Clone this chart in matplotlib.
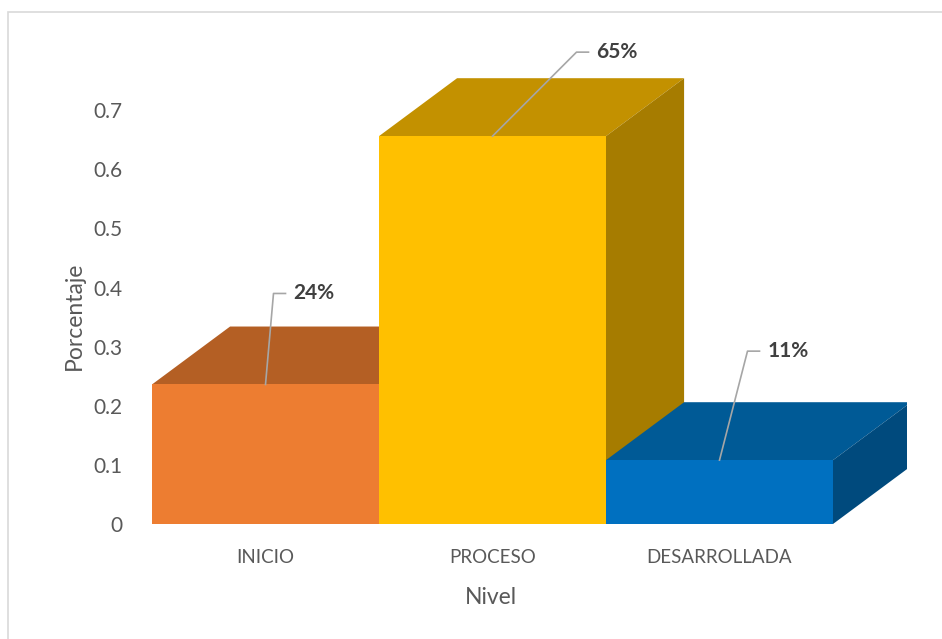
import numpy as np
import matplotlib
matplotlib.use('Agg')
import matplotlib.pyplot as plt
from matplotlib.patches import Polygon, Rectangle
from matplotlib.transforms import ScaledTranslation

plt.rcParams['font.family'] = ['Lato', 'DejaVu Sans']

# data
niveles = ['INICIO', 'PROCESO', 'DESARROLLADA']
valores = [0.236, 0.656, 0.108]
etiquetas = ['24%', '65%', '11%']
yticks = [0, 0.1, 0.2, 0.3, 0.4, 0.5, 0.6, 0.7]
ytick_labels = ['0', '0.1', '0.2', '0.3', '0.4', '0.5', '0.6', '0.7']

# colours: front, top, side
c_front = ['#ED7D31', '#FFC000', '#0070C0']
c_top = ['#B45F24', '#C39100', '#005A96']
c_side = ['#9C5220', '#A67C00', '#004A7D']

# fake 3d depth (data units)
dx, dy = 0.344, 0.098

# leader offsets in pixels (elbow point relative to bar top centre)
lead = [(8, 91), (84, 84), (28, 109)]

fig = plt.figure(figsize=(9.42, 6.39), dpi=100)
ax = fig.add_axes([152/942, 115/639, 755/942, 473/639])
ax.set_xlim(0, 3.326)
ax.set_ylim(0, 0.8)

for i, v in enumerate(valores):
    x0, x1 = i, i + 1
    top = Polygon([(x0, v), (x1, v), (x1+dx, v+dy), (x0+dx, v+dy)],
                  closed=True, fc=c_top[i], ec='none', zorder=2+i)
    side = Polygon([(x1, 0), (x1+dx, dy), (x1+dx, v+dy), (x1, v)],
                   closed=True, fc=c_side[i], ec='none', zorder=2+i)
    front = Rectangle((x0, 0), 1, v, fc=c_front[i], ec='none', zorder=2+i)
    ax.add_patch(top)
    ax.add_patch(side)
    ax.add_patch(front)

# data labels with leader lines
inv = fig.transFigure.inverted()
for i, v in enumerate(valores):
    ox, oy = lead[i]
    xs = i + 0.5
    t1 = ax.transData + ScaledTranslation(ox/100, oy/100, fig.dpi_scale_trans)
    t2 = ax.transData + ScaledTranslation((ox+12)/100, oy/100, fig.dpi_scale_trans)
    p0 = ax.transData.transform((xs, v))
    p1 = t1.transform((xs, v))
    p2 = t2.transform((xs, v))
    pts = inv.transform(np.array([p0, p1, p2]))
    fig.add_artist(plt.Line2D(pts[:, 0], pts[:, 1], color='#A6A6A6', lw=1.2, zorder=10))
    tt = ax.transData + ScaledTranslation((ox+20)/100, oy/100, fig.dpi_scale_trans)
    ax.text(xs, v, etiquetas[i], transform=tt, ha='left', va='center',
            fontsize=15, fontweight='bold', color='#404040', zorder=11, clip_on=False)

ax.set_yticks(yticks)
ax.set_yticklabels(ytick_labels)
ax.set_xticks([0.5, 1.5, 2.5])
ax.set_xticklabels(niveles)
ax.tick_params(axis='y', length=0, pad=21, labelsize=15, labelcolor='#595959')
ax.tick_params(axis='x', length=0, pad=18, labelsize=13.5, labelcolor='#595959')
for s in ax.spines.values():
    s.set_visible(False)

fig.text(74/942, 1 - 316/639, 'Porcentaje', rotation=90, ha='center', va='center',
         fontsize=16.5, color='#595959')
fig.text(491/942, 1 - 597/639, 'Nivel', ha='center', va='center',
         fontsize=16.5, color='#595959')

# chart area border (only top/left visible in reference)
fig.add_artist(Rectangle((8/942, -0.05), 1.1, 1 - 12/639 + 0.05, transform=fig.transFigure,
                         fill=False, ec='#D9D9D9', lw=1.2))

fig.savefig('out.png', dpi=100)
